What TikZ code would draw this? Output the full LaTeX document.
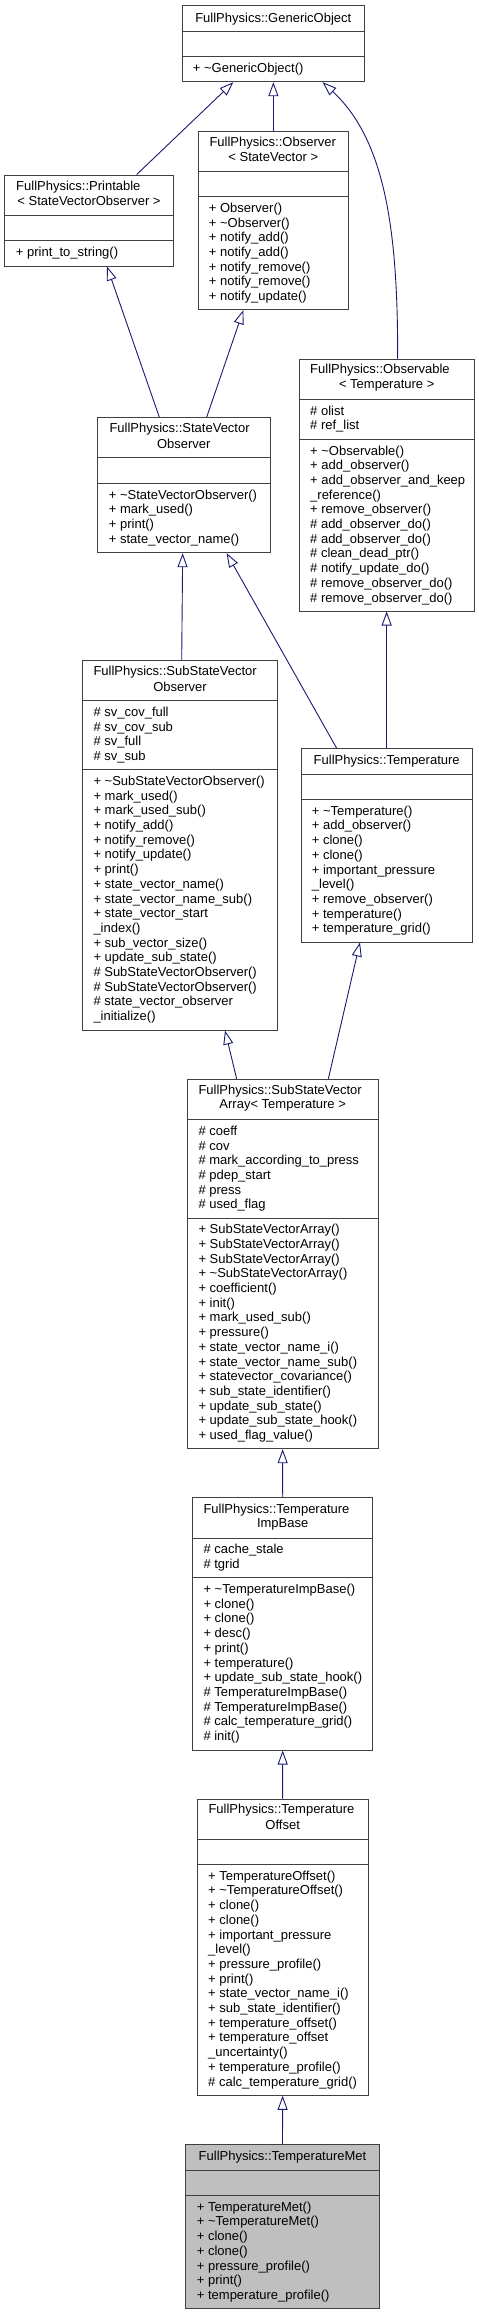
\documentclass[tikz,border=0pt]{standalone}
\usepackage{fontspec}
\setmainfont{Liberation Sans}
\usetikzlibrary{arrows.meta,fit}
\definecolor{edgeblue}{HTML}{191970}
\definecolor{boxline}{HTML}{404040}
\definecolor{focusfill}{HTML}{BFBFBF}
\tikzset{
  frame/.style={draw=boxline, line width=1pt, inner sep=0pt},
  sepline/.style={draw=boxline, line width=1pt},
  lst/.style={inner sep=0pt, align=left, anchor=west},
  ttl/.style={inner sep=0pt},
  ttlw/.style={inner sep=0pt, anchor=west},
  inh/.style={draw=edgeblue, line width=0.9pt, -{Triangle[length=14pt,width=10pt,fill=white]}},
}
\newcommand\umlframe[8]{%
  \node[frame, fill=#8, fit={(#2,#3)(#4,#5)}] (#1) {};
  \draw[sepline] (#2,#6) -- (#4,#6);
  \draw[sepline] (#2,#7) -- (#4,#7);
}
\newcommand\tl{\textasciitilde}
\begin{document}
\begin{tikzpicture}[x=1pt, y=-1pt, font=\fontsize{13}{14.7}\selectfont]
\useasboundingbox (0,0) rectangle (479,2315);

% GenericObject
\umlframe{GO}{182.7}{5.7}{364}{81.7}{31.7}{56.7}{white}
\node[ttl] (GOt) at (273.3,18.7) {FullPhysics::GenericObject};
\node[lst] (GOm) at (192.7,69.2) {+ \tl GenericObject()};

% Observer
\umlframe{OB}{198}{131}{348.7}{309.7}{171.7}{196.7}{white}
\node[ttlw] (OBt1) at (209.3,142.7) {FullPhysics::Observer};
\node[ttl] (OBt2) at (273.3,157.3) {< StateVector >};
\node[lst] (OBm) at (208.7,253.2) {+ Observer()\\+ \tl Observer()\\+ notify\_add()\\+ notify\_add()\\+ notify\_remove()\\+ notify\_remove()\\+ notify\_update()};

% Printable
\umlframe{PR}{4.7}{175}{173.3}{266}{215.3}{240.7}{white}
\node[ttlw] (PRt1) at (16,186.7) {FullPhysics::Printable};
\node[ttl] (PRt2) at (89,201.3) {< StateVectorObserver >};
\node[lst] (PRm) at (15.7,253.3) {+ print\_to\_string()};

% StateVectorObserver
\umlframe{SVO}{97.7}{417.7}{270}{552.7}{457.7}{483}{white}
\node[ttlw] (SVOt1) at (109.3,429.3) {FullPhysics::StateVector};
\node[ttl] (SVOt2) at (183.8,444) {Observer};
\node[lst] (SVOm) at (108.7,517.8) {+ \tl StateVectorObserver()\\+ mark\_used()\\+ print()\\+ state\_vector\_name()};

% Observable
\umlframe{OBS}{299.3}{359}{474}{611}{399}{439.3}{white}
\node[ttlw] (OBSt1) at (310,370.3) {FullPhysics::Observable};
\node[ttl] (OBSt2) at (386.7,385.7) {< Temperature >};
\node[lst] (OBSa) at (310,419.2) {\# olist\\\# ref\_list};
\node[lst] (OBSm) at (310,525.2) {+ \tl Observable()\\+ add\_observer()\\+ add\_observer\_and\_keep\\\_reference()\\+ remove\_observer()\\\# add\_observer\_do()\\\# add\_observer\_do()\\\# clean\_dead\_ptr()\\\# notify\_update\_do()\\\# remove\_observer\_do()\\\# remove\_observer\_do()};

% SubStateVectorObserver
\umlframe{SSVO}{82.7}{660.7}{277.3}{1030}{700.7}{769.3}{white}
\node[ttlw] (SSVOt1) at (93.3,672.3) {FullPhysics::SubStateVector};
\node[ttl] (SSVOt2) at (180,686.7) {Observer};
\node[lst] (SSVOa) at (93.3,735) {\# sv\_cov\_full\\\# sv\_cov\_sub\\\# sv\_full\\\# sv\_sub};
\node[lst] (SSVOm) at (93.3,899.7) {+ \tl SubStateVectorObserver()\\+ mark\_used()\\+ mark\_used\_sub()\\+ notify\_add()\\+ notify\_remove()\\+ notify\_update()\\+ print()\\+ state\_vector\_name()\\+ state\_vector\_name\_sub()\\+ state\_vector\_start\\\_index()\\+ sub\_vector\_size()\\+ update\_sub\_state()\\\# SubStateVectorObserver()\\\# SubStateVectorObserver()\\\# state\_vector\_observer\\\_initialize()};

% Temperature
\umlframe{TE}{301.3}{748.7}{472}{942}{774}{799.3}{white}
\node[ttl] (TEt) at (386.7,761.3) {FullPhysics::Temperature};
\node[lst] (TEm) at (311.7,870.7) {+ \tl Temperature()\\+ add\_observer()\\+ clone()\\+ clone()\\+ important\_pressure\\\_level()\\+ remove\_observer()\\+ temperature()\\+ temperature\_grid()};

% SubStateVectorArray
\umlframe{SSVA}{187}{1079.3}{378.3}{1448.7}{1119.3}{1218}{white}
\node[ttlw] (SSVAt1) at (198.3,1090.7) {FullPhysics::SubStateVector};
\node[ttl] (SSVAt2) at (282.7,1105.3) {Array< Temperature >};
\node[lst] (SSVAa) at (198.3,1168.7) {\# coeff\\\# cov\\\# mark\_according\_to\_press\\\# pdep\_start\\\# press\\\# used\_flag};
\node[lst] (SSVAm) at (198.3,1333.3) {+ SubStateVectorArray()\\+ SubStateVectorArray()\\+ SubStateVectorArray()\\+ \tl SubStateVectorArray()\\+ coefficient()\\+ init()\\+ mark\_used\_sub()\\+ pressure()\\+ state\_vector\_name\_i()\\+ state\_vector\_name\_sub()\\+ statevector\_covariance()\\+ sub\_state\_identifier()\\+ update\_sub\_state()\\+ update\_sub\_state\_hook()\\+ used\_flag\_value()};

% TemperatureImpBase
\umlframe{IB}{192.7}{1497.7}{372.7}{1750}{1538}{1577.3}{white}
\node[ttlw] (IBt1) at (203.3,1509.7) {FullPhysics::Temperature};
\node[ttl] (IBt2) at (282.7,1524.3) {ImpBase};
\node[lst] (IBa) at (203.3,1557.7) {\# cache\_stale\\\# tgrid};
\node[lst] (IBm) at (203.3,1663.7) {+ \tl TemperatureImpBase()\\+ clone()\\+ clone()\\+ desc()\\+ print()\\+ temperature()\\+ update\_sub\_state\_hook()\\\# TemperatureImpBase()\\\# TemperatureImpBase()\\\# calc\_temperature\_grid()\\\# init()};

% TemperatureOffset
\umlframe{OF}{197.3}{1799}{368}{2095.3}{1839}{1864.3}{white}
\node[ttlw] (OFt1) at (208.3,1810.3) {FullPhysics::Temperature};
\node[ttl] (OFt2) at (282.7,1825) {Offset};
\node[lst] (OFm) at (208,1979.8) {+ TemperatureOffset()\\+ \tl TemperatureOffset()\\+ clone()\\+ clone()\\+ important\_pressure\\\_level()\\+ pressure\_profile()\\+ print()\\+ state\_vector\_name\_i()\\+ sub\_state\_identifier()\\+ temperature\_offset()\\+ temperature\_offset\\\_uncertainty()\\+ temperature\_profile()\\\# calc\_temperature\_grid()};

% TemperatureMet
\umlframe{TM}{185.7}{2144.3}{379.3}{2308.7}{2170.7}{2195.3}{focusfill}
\node[ttl] (TMt) at (282.5,2157.5) {FullPhysics::TemperatureMet};
\node[lst] (TMm) at (196.7,2252) {+ TemperatureMet()\\+ \tl TemperatureMet()\\+ clone()\\+ clone()\\+ pressure\_profile()\\+ print()\\+ temperature\_profile()};

% inheritance connectors
\draw[inh] ([xshift=47.7pt]PR.north) -- ([xshift=-40pt]GO.south);
\draw[inh] (OB.north) -- (GO.south);
\draw[inh] ([xshift=11pt]OBS.north) .. controls (398,230) and (385,140) .. ([xshift=49.3pt]GO.south);
\draw[inh] ([xshift=-24.5pt]SVO.north) -- ([xshift=18pt]PR.south);
\draw[inh] ([xshift=22.8pt]SVO.north) -- ([xshift=-30pt]OB.south);
\draw[inh] ([xshift=1.7pt]SSVO.north) -- ([xshift=-1.2pt]SVO.south);
\draw[inh] ([xshift=-50pt]TE.north) -- ([xshift=42.8pt]SVO.south);
\draw[inh] (TE.north) -- (OBS.south);
\draw[inh] ([xshift=-46pt]SSVA.north) -- ([xshift=45pt]SSVO.south);
\draw[inh] ([xshift=45.7pt]SSVA.north) -- ([xshift=-26.7pt]TE.south);
\draw[inh] (IB.north) -- (SSVA.south);
\draw[inh] (OF.north) -- (IB.south);
\draw[inh] (TM.north) -- (OF.south);
\end{tikzpicture}
\end{document}
